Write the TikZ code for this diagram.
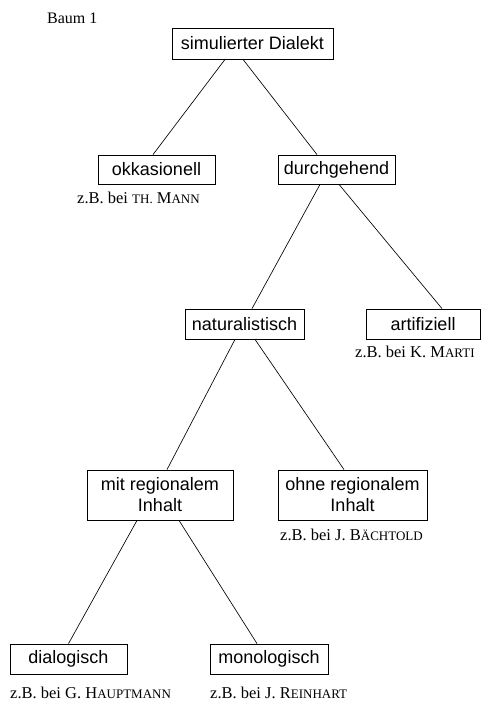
\documentclass[tikz,border=0pt]{standalone}
\usepackage{fontspec}
\setmainfont{Liberation Serif}
\newfontfamily\boxfont{Liberation Sans}
% small capitals imitated by smaller upper-case letters
\newcommand\smallcaps[1]{{\fontsize{13}{14}\selectfont #1}}
\tikzset{
  cat/.style={draw, line width=0.8pt, font=\boxfont\fontsize{18}{21}\selectfont,
    inner sep=0pt, align=center},
  note/.style={anchor=west, inner sep=0pt, font=\fontsize{16.5}{18}\selectfont},
  edge/.style={line width=0.65pt}
}
\begin{document}
\begin{tikzpicture}[x=1pt,y=-1pt]
\useasboundingbox[fill=white] (0,0) rectangle (485,703);

\node[note, font=\fontsize{16}{18}\selectfont] (title) at (47,18.5) {Baum 1};

\node[cat, minimum width=161pt, minimum height=31pt] (sim) at (252.5,43.5) {simulierter Dialekt};
\node[cat, minimum width=117pt, minimum height=29pt] (okk) at (156.5,169.5) {okkasionell};
\node[cat, minimum width=117pt, minimum height=29pt] (dur) at (336.5,169.5) {durchgehend};
\node[cat, minimum width=119pt, minimum height=30pt] (nat) at (244.5,324) {naturalistisch};
\node[cat, minimum width=114pt, minimum height=30pt] (art) at (423,324) {artifiziell};
\node[cat, minimum width=146pt, minimum height=50pt] (mit) at (160,495) {mit regionalem\\Inhalt};
\node[cat, minimum width=149pt, minimum height=50pt] (ohne) at (352.5,495) {ohne regionalem\\Inhalt};
\node[cat, minimum width=117pt, minimum height=30pt] (dia) at (68.5,659) {dialogisch};
\node[cat, minimum width=118pt, minimum height=30pt] (mono) at (269,659) {monologisch};

\node[note] (nMann) at (77,198) {z.B. bei \smallcaps{TH.} M\smallcaps{ANN}};
\node[note] (nMarti) at (355,352) {z.B. bei K. M\smallcaps{ARTI}};
\node[note] (nBaechtold) at (280,535) {z.B. bei J. B\smallcaps{ÄCHTOLD}};
\node[note] (nHauptmann) at (10,693) {z.B. bei G. H\smallcaps{AUPTMANN}};
\node[note] (nReinhart) at (210,693) {z.B. bei J. R\smallcaps{EINHART}};

\draw[edge] ([xshift=-27.5pt]sim.south) -- ([xshift=-3.5pt]okk.north);
\draw[edge] ([xshift=-9.5pt]sim.south) -- ([xshift=-19.5pt]dur.north);
\draw[edge] ([xshift=-16.5pt]dur.south) -- ([xshift=7.5pt]nat.north);
\draw[edge] ([xshift=2.5pt]dur.south) -- ([xshift=19pt]art.north);
\draw[edge] ([xshift=-9.5pt]nat.south) -- ([xshift=7pt]mit.north);
\draw[edge] ([xshift=10.5pt]nat.south) -- ([xshift=-8.5pt]ohne.north);
\draw[edge] ([xshift=-23pt]mit.south) -- (dia.north);
\draw[edge] ([xshift=19pt]mit.south) -- ([xshift=-12pt]mono.north);
\end{tikzpicture}
\end{document}
